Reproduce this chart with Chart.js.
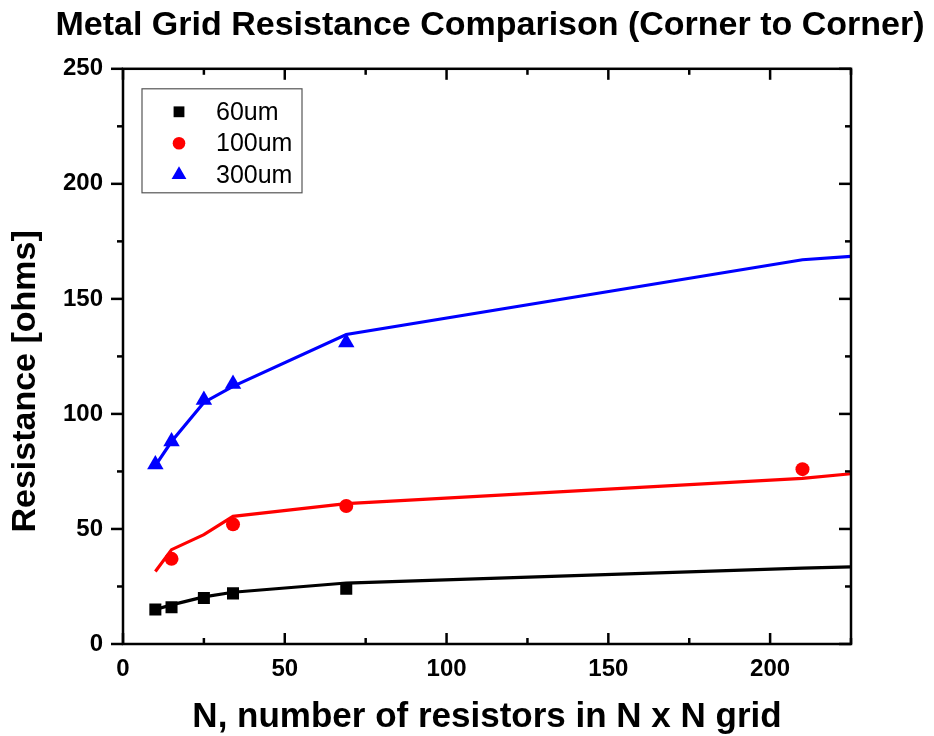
<!DOCTYPE html>
<html><head><meta charset="utf-8">
<script src="https://cdn.jsdelivr.net/npm/chart.js@4.4.0/dist/chart.umd.min.js"></script>
<style>html,body{margin:0;padding:0;background:#fff;} canvas{display:block;}</style>
</head><body>
<canvas id="c" width="934" height="736"></canvas>
<script>
const chartTitle = 'Metal Grid Resistance Comparison (Corner to Corner)';
const xAxisTitle = 'N, number of resistors in N x N grid';
const yAxisTitle = 'Resistance [ohms]';
const seriesNames = ['60um', '100um', '300um'];
const seriesColors = ['#000000', '#ff0000', '#0000ff'];
const seriesMarkers = ['rect', 'circle', 'triangle'];

// measured points
const n60 = [10, 15, 25, 34, 69];
const r60 = [15, 16, 20, 22, 24];
const n100 = [15, 34, 69, 210];
const r100 = [37, 52, 60, 76];
const n300 = [10, 15, 25, 34, 69];
const r300 = [78, 88, 106, 113, 131];

// model curves
const nModel = [10, 15, 25, 34, 69, 210, 225];
const model60 = [15, 17, 20.5, 22.5, 26.5, 33, 33.5];
const model100 = [31.5, 41, 47.5, 55.5, 61, 72, 74];
const model300 = [77.5, 88, 105, 112, 134.5, 167, 168.5];

// axes
const xMajorTicks = [0, 50, 100, 150, 200];
const xMinorTicks = [25, 75, 125, 175, 225];
const yMajorTicks = [0, 50, 100, 150, 200, 250];
const yMinorTicks = [25, 75, 125, 175, 225];
const xMin = 0, xMax = 225, yMin = 0, yMax = 250;

const FONT = '"Liberation Sans", Arial, Helvetica, sans-serif';
const pts = (xs, ys) => xs.map((v, i) => ({x: v, y: ys[i]}));
const markerRadius = [8.5, 7, 9.5];

const measured = [[n60, r60], [n100, r100], [n300, r300]];
const models = [model60, model100, model300];

const datasets = [];
measured.forEach((m, i) => {
  datasets.push({
    label: seriesNames[i], data: pts(m[0], m[1]), showLine: false,
    pointStyle: seriesMarkers[i], pointRadius: markerRadius[i], pointHoverRadius: markerRadius[i],
    pointBackgroundColor: seriesColors[i], pointBorderWidth: 0, backgroundColor: seriesColors[i],
    borderColor: seriesColors[i], order: 0, isMeasured: true
  });
});
models.forEach((m, i) => {
  datasets.push({
    label: seriesNames[i] + ' model', data: pts(nModel, m), showLine: true,
    pointRadius: 0, borderColor: seriesColors[i], borderWidth: 3.2, tension: 0, fill: false, order: 1
  });
});

const framePlugin = {
  id: 'frame',
  afterDatasetsDraw(chart) {
    const {ctx, chartArea: a, scales: {x, y}} = chart;
    ctx.save();
    ctx.strokeStyle = '#000'; ctx.lineWidth = 2.5; ctx.lineCap = 'square';
    ctx.strokeRect(a.left, a.top, a.right - a.left, a.bottom - a.top);
    ctx.lineCap = 'butt';
    const tick = (x1, y1, x2, y2) => { ctx.beginPath(); ctx.moveTo(x1, y1); ctx.lineTo(x2, y2); ctx.stroke(); };
    const xt = xMajorTicks.map(v => [v, 11]).concat(xMinorTicks.map(v => [v, 6]));
    xt.forEach(([v, len]) => {
      const px = x.getPixelForValue(v);
      tick(px, a.bottom, px, a.bottom - len);
      tick(px, a.top, px, a.top + len);
    });
    const yt = yMajorTicks.map(v => [v, 12]).concat(yMinorTicks.map(v => [v, 6]));
    yt.forEach(([v, len]) => {
      const py = y.getPixelForValue(v);
      tick(a.left, py, a.left - len, py);
      tick(a.right, py, a.right - len, py);
    });
    // y axis title
    ctx.save();
    ctx.translate(26, (a.top + a.bottom) / 2 + 25);
    ctx.rotate(-Math.PI / 2);
    ctx.font = 'bold 34px ' + FONT;
    ctx.fillStyle = '#000'; ctx.textAlign = 'center'; ctx.textBaseline = 'middle';
    ctx.fillText(yAxisTitle, 0, 0);
    ctx.restore();
    // legend
    const lx = a.left + 19, ly = a.top + 20, lw = 160, lh = 104;
    ctx.fillStyle = '#fff';
    ctx.fillRect(lx, ly, lw, lh);
    ctx.strokeStyle = '#555'; ctx.lineWidth = 1.2;
    ctx.strokeRect(lx, ly, lw, lh);
    ctx.font = '25px ' + FONT;
    ctx.textAlign = 'left'; ctx.textBaseline = 'middle';
    chart.data.datasets.filter(d => d.isMeasured).forEach((d, i) => {
      const cy = ly + 23 + i * 31.5;
      ctx.fillStyle = d.pointBackgroundColor; ctx.strokeStyle = d.pointBackgroundColor;
      Chart.helpers.drawPoint(ctx, {pointStyle: d.pointStyle, radius: d.pointRadius * 0.9, rotation: 0, borderWidth: 0}, lx + 37, cy);
      ctx.fillStyle = '#000';
      ctx.fillText(d.label, lx + 74, cy + 1);
    });
    ctx.restore();
  }
};

new Chart(document.getElementById('c'), {
  type: 'scatter',
  data: {datasets},
  plugins: [framePlugin],
  options: {
    responsive: false, animation: false,
    layout: {padding: {left: 46, right: 0, top: 0, bottom: 0}},
    plugins: {
      legend: {display: false}, tooltip: {enabled: false},
      title: {display: true, text: chartTitle, fullSize: true, color: '#000',
        font: {family: FONT, size: 34, weight: 'bold'}, padding: {top: 5, bottom: 23}}
    },
    scales: {
      x: {type: 'linear', position: 'bottom', min: xMin, max: xMax,
        grid: {display: false, drawTicks: false}, border: {display: false},
        afterBuildTicks: s => { s.ticks = xMajorTicks.map(v => ({value: v})); },
        afterFit: s => { s.height = 92; },
        ticks: {color: '#000', padding: 11, font: {family: FONT, size: 24, weight: 'bold'}},
        title: {display: true, text: xAxisTitle, color: '#000', padding: {top: 0, bottom: 0},
          font: {family: FONT, size: 35, weight: 'bold', lineHeight: 1.05}}
      },
      y: {type: 'linear', position: 'left', min: yMin, max: yMax,
        grid: {display: false, drawTicks: false}, border: {display: false},
        afterBuildTicks: s => { s.ticks = yMajorTicks.map(v => ({value: v})); },
        afterFit: s => { s.width = 77; },
        ticks: {color: '#000', padding: 20, font: {family: FONT, size: 24, weight: 'bold'}}
      },
      yRight: {type: 'linear', position: 'right', min: yMin, max: yMax, display: true,
        grid: {display: false, drawTicks: false}, border: {display: false},
        ticks: {display: false},
        afterFit: s => { s.width = 83; }
      }
    }
  }
});
</script>
</body></html>
